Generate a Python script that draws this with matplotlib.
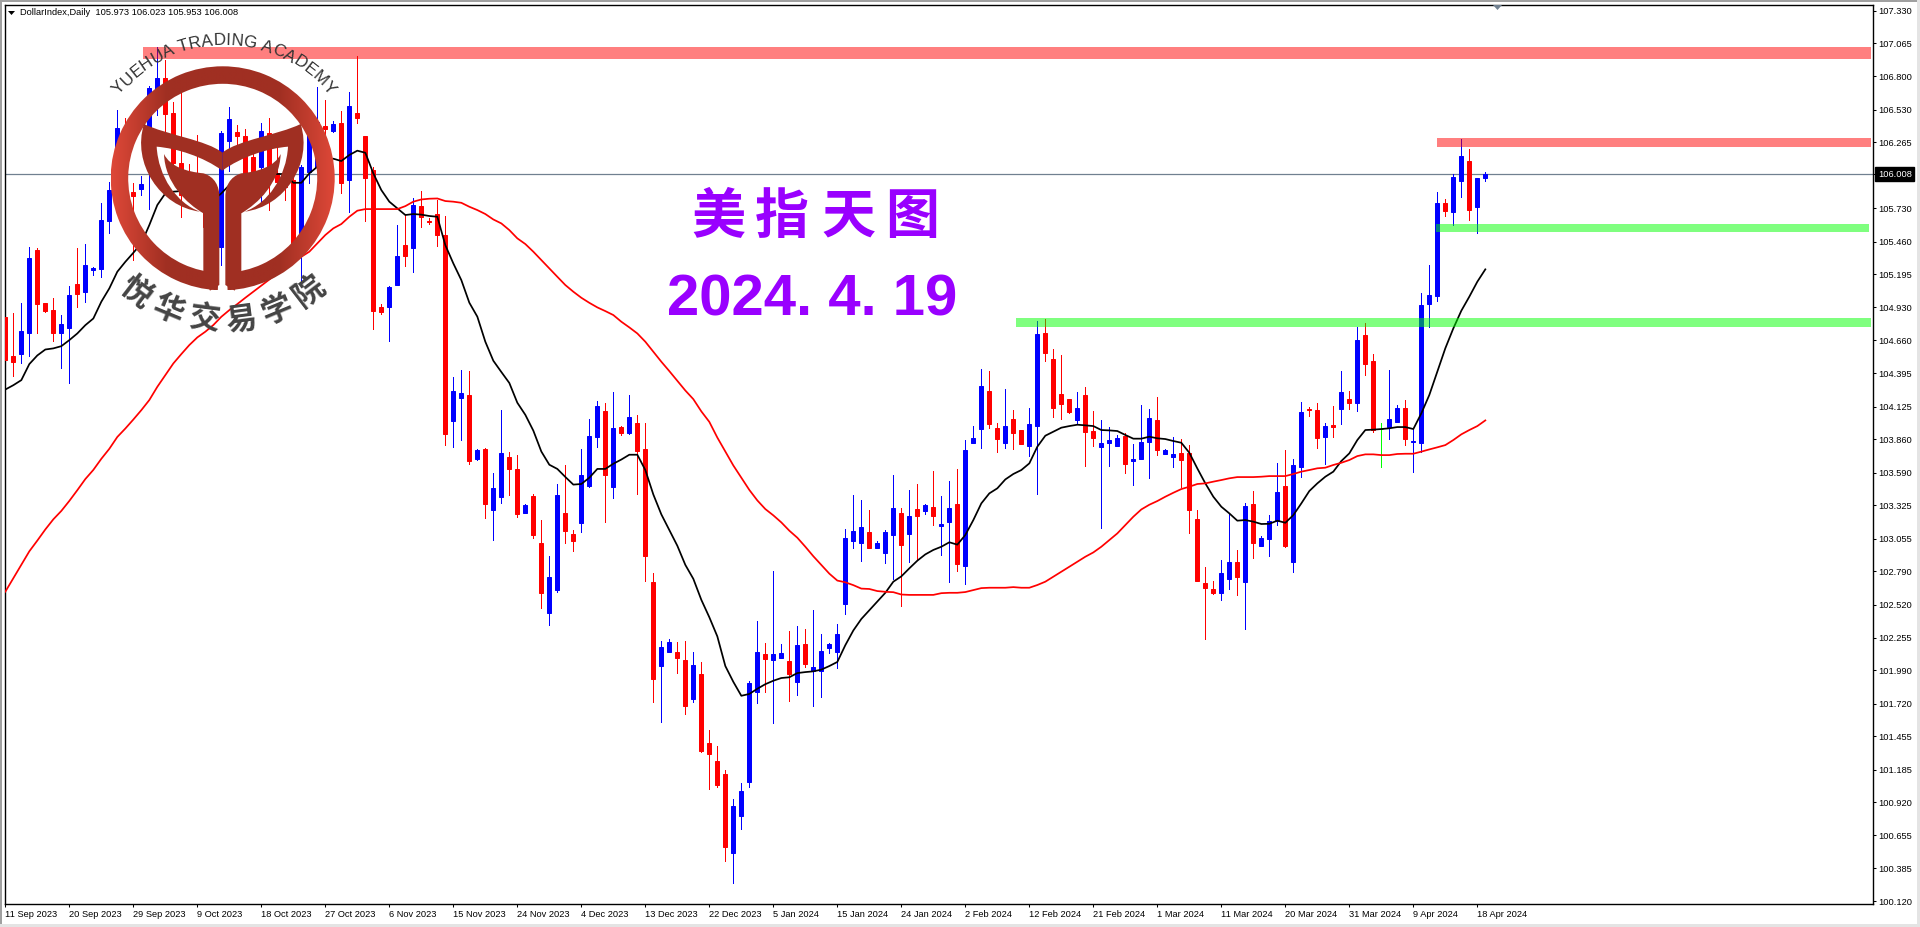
# plot.py
# DollarIndex daily chart, Sep 2023 - Apr 2024, with zones and academy logo

import numpy as np
import matplotlib
matplotlib.use('Agg')
import matplotlib.pyplot as plt
from matplotlib.patches import Wedge, PathPatch, Rectangle, Polygon
from matplotlib.path import Path
from matplotlib.font_manager import FontProperties
from matplotlib.textpath import text_to_path
from matplotlib.transforms import blended_transform_factory

opens = [
    104.852, 104.533, 104.550, 104.722, 105.392, 104.960, 104.906, 104.722, 104.763, 105.117,
    105.052, 105.233, 105.241, 105.630, 105.959, 106.310, 105.862, 105.883, 106.337, 106.607,
    106.785, 106.499, 106.094, 106.013, 105.865, 105.797, 105.581, 105.414, 106.278, 106.348,
    106.315, 106.148, 106.067, 106.337, 106.013, 105.945, 105.959, 105.487, 106.027, 106.067,
    106.396, 106.356, 106.421, 105.959, 106.499, 106.315, 106.040, 104.930, 104.933, 105.109,
    105.433, 105.411, 105.748, 105.627, 105.684, 105.514, 104.009, 104.191, 104.217, 103.698,
    103.783, 103.289, 103.396, 103.713, 103.620, 103.266, 103.399, 103.021, 102.456, 102.639,
    103.264, 103.094, 103.185, 103.481, 103.882, 104.089, 103.476, 103.959, 103.911, 103.993,
    103.781, 102.704, 102.024, 102.139, 102.137, 102.072, 101.761, 101.958, 101.399, 101.255,
    101.151, 100.512, 100.812, 101.088, 101.812, 102.122, 102.074, 102.091, 102.066, 101.896,
    102.201, 101.981, 101.981, 102.170, 102.139, 102.529, 103.038, 103.024, 103.108, 102.981,
    102.942, 103.089, 103.264, 103.097, 103.295, 103.278, 103.312, 103.154, 103.193, 103.337,
    102.836, 103.830, 103.946, 104.251, 103.951, 103.830, 104.024, 103.935, 103.808, 103.970,
    104.721, 104.510, 104.227, 104.186, 104.016, 104.219, 103.927, 103.797, 103.830, 103.805,
    103.886, 103.684, 103.700, 103.838, 104.016, 103.741, 103.716, 103.749, 103.749, 103.214,
    102.696, 102.647, 102.615, 102.728, 102.866, 102.704, 103.336, 102.995, 103.052, 103.198,
    103.481, 102.866, 103.635, 104.105, 104.097, 103.878, 103.973, 104.105, 104.186, 104.154,
    104.704, 104.494, 103.940, 103.959, 104.000, 104.113, 103.838, 103.832, 104.958, 105.023,
    105.771, 105.703, 105.954, 106.113, 105.741, 105.973,
]
closes = [
    104.506, 104.488, 104.736, 105.330, 104.955, 104.901, 104.722, 104.793, 105.027, 105.036,
    105.271, 105.246, 105.635, 105.878, 106.380, 105.824, 105.829, 105.927, 106.704, 106.785,
    106.494, 106.094, 105.840, 105.945, 105.797, 105.581, 105.406, 106.342, 106.453, 106.315,
    106.008, 106.013, 106.356, 106.013, 105.945, 105.905, 105.419, 106.067, 106.337, 106.432,
    106.369, 106.413, 105.937, 106.558, 106.461, 105.978, 104.901, 104.890, 105.095, 105.343,
    105.343, 105.757, 105.662, 105.616, 105.514, 103.905, 104.253, 104.231, 103.687, 103.775,
    103.337, 103.464, 103.750, 103.622, 103.255, 103.329, 103.089, 102.617, 102.744, 103.408,
    103.120, 103.038, 103.572, 103.885, 104.128, 103.572, 103.950, 103.911, 104.041, 103.764,
    102.911, 101.922, 102.179, 102.218, 102.091, 101.704, 102.032, 101.340, 101.314, 101.063,
    100.560, 100.891, 101.012, 101.885, 102.137, 102.083, 102.122, 102.128, 101.958, 102.193,
    102.043, 102.015, 102.145, 102.201, 102.283, 103.060, 103.117, 103.151, 102.981, 103.021,
    103.108, 103.303, 103.007, 103.238, 103.241, 103.329, 103.241, 103.173, 103.303, 102.854,
    103.773, 103.870, 104.291, 103.986, 103.865, 103.967, 103.913, 103.824, 103.984, 104.713,
    104.561, 104.116, 104.148, 104.081, 104.113, 103.919, 103.870, 103.830, 103.854, 103.870,
    103.662, 103.700, 103.838, 104.032, 103.773, 103.773, 103.741, 103.692, 103.287, 102.712,
    102.655, 102.615, 102.777, 102.866, 102.744, 103.319, 103.020, 103.060, 103.198, 103.433,
    102.995, 103.652, 104.081, 104.094, 103.870, 103.967, 103.959, 104.243, 104.154, 104.664,
    104.470, 103.935, 103.940, 104.024, 104.113, 103.862, 103.843, 104.947, 105.028, 105.773,
    105.708, 105.984, 106.154, 105.719, 105.976, 106.008,
]
highs = [
    104.860, 104.879, 104.960, 105.414, 105.406, 104.965, 105.000, 104.866, 105.100, 105.406,
    105.438, 105.257, 105.770, 105.945, 106.526, 106.459, 105.932, 105.991, 106.720, 107.039,
    106.931, 106.594, 106.661, 106.089, 106.324, 105.838, 105.635, 106.356, 106.548, 106.404,
    106.369, 106.202, 106.418, 106.459, 106.229, 106.067, 106.148, 106.080, 106.364, 106.715,
    106.607, 106.440, 106.518, 106.669, 106.963, 106.315, 106.062, 104.955, 105.100, 105.595,
    105.676, 105.810, 105.870, 105.648, 105.797, 105.667, 104.361, 104.420, 104.412, 103.783,
    103.789, 103.583, 104.097, 103.761, 103.733, 103.337, 103.413, 103.204, 102.913, 103.498,
    103.654, 103.125, 103.781, 104.024, 104.171, 104.154, 104.244, 103.967, 104.219, 104.058,
    103.993, 102.778, 102.227, 102.244, 102.218, 102.227, 102.137, 102.057, 101.507, 101.377,
    101.182, 100.947, 101.077, 101.902, 102.388, 102.210, 102.792, 102.201, 102.306, 102.348,
    102.323, 102.478, 102.283, 102.207, 102.368, 103.134, 103.408, 103.365, 103.286, 103.035,
    103.125, 103.572, 103.303, 103.450, 103.498, 103.332, 103.603, 103.399, 103.521, 103.620,
    103.854, 103.967, 104.429, 104.413, 103.989, 104.267, 104.097, 103.935, 104.116, 104.815,
    104.834, 104.588, 104.543, 104.186, 104.243, 104.283, 104.089, 104.016, 103.957, 103.895,
    103.908, 103.819, 104.138, 104.105, 104.202, 103.781, 103.878, 103.862, 103.814, 103.287,
    102.825, 102.715, 102.882, 103.260, 102.963, 103.344, 103.441, 103.076, 103.246, 103.668,
    103.773, 103.700, 104.162, 104.121, 104.154, 103.992, 104.129, 104.413, 104.251, 104.769,
    104.802, 104.551, 103.992, 104.421, 104.138, 104.178, 103.948, 105.045, 105.271, 105.865,
    105.806, 106.008, 106.291, 106.210, 105.976, 106.023,
]
lows = [
    104.366, 104.371, 104.474, 104.533, 104.717, 104.890, 104.658, 104.439, 104.317, 104.933,
    104.974, 105.190, 105.176, 105.532, 105.878, 105.689, 105.311, 105.837, 105.721, 106.485,
    106.337, 106.067, 105.657, 105.824, 105.743, 105.473, 105.284, 105.271, 106.035, 106.121,
    105.959, 105.784, 105.784, 105.716, 105.892, 105.797, 105.406, 105.136, 105.937, 106.040,
    106.121, 106.345, 105.856, 105.703, 106.423, 105.630, 104.755, 104.874, 104.658, 105.109,
    105.262, 105.217, 105.581, 105.603, 105.424, 103.815, 103.797, 103.857, 103.660, 103.692,
    103.224, 103.046, 103.346, 103.408, 103.233, 103.264, 103.063, 102.495, 102.357, 102.625,
    103.021, 102.956, 103.108, 103.476, 103.798, 103.190, 103.385, 103.896, 103.902, 103.416,
    102.716, 101.733, 101.572, 102.137, 101.967, 101.637, 101.735, 101.331, 101.029, 101.046,
    100.442, 100.266, 100.704, 101.043, 101.724, 101.817, 101.563, 102.088, 101.741, 101.789,
    102.015, 101.704, 101.775, 102.128, 102.009, 102.447, 102.978, 102.877, 102.976, 102.978,
    102.860, 102.730, 102.509, 102.865, 102.882, 103.255, 103.165, 102.922, 102.707, 102.792,
    102.690, 103.830, 103.792, 103.954, 103.760, 103.792, 103.784, 103.822, 103.727, 103.419,
    104.497, 104.040, 104.027, 104.073, 103.994, 103.646, 103.805, 103.141, 103.643, 103.805,
    103.587, 103.489, 103.700, 103.546, 103.732, 103.738, 103.635, 103.473, 103.101, 102.712,
    102.242, 102.609, 102.558, 102.647, 102.599, 102.323, 102.898, 102.995, 102.914, 103.166,
    102.987, 102.785, 103.554, 104.048, 103.789, 103.660, 103.878, 103.984, 104.105, 104.089,
    104.381, 103.919, 103.635, 103.862, 104.000, 103.814, 103.595, 103.757, 104.772, 104.982,
    105.668, 105.595, 105.822, 105.636, 105.530, 105.953,
]

# moving averages read bar by bar
ma_fast = [
    104.263, 104.298, 104.339, 104.469, 104.539, 104.587, 104.596, 104.614, 104.663, 104.717,
    104.784, 104.838, 104.974, 105.082, 105.217, 105.297, 105.370, 105.446, 105.595, 105.757,
    105.851, 105.865, 105.870, 105.873, 105.856, 105.824, 105.797, 105.851, 105.919, 105.986,
    106.000, 106.000, 105.999, 106.005, 106.008, 106.008, 105.937, 105.937, 106.013, 106.067,
    106.126, 106.132, 106.113, 106.162, 106.197, 106.180, 106.013, 105.878, 105.784, 105.730,
    105.676, 105.684, 105.679, 105.668, 105.662, 105.432, 105.284, 105.149, 104.966, 104.853,
    104.650, 104.496, 104.405, 104.316, 104.156, 104.058, 103.930, 103.761, 103.654, 103.620,
    103.555, 103.493, 103.498, 103.549, 103.620, 103.620, 103.662, 103.696, 103.735, 103.735,
    103.611, 103.413, 103.252, 103.125, 102.998, 102.843, 102.730, 102.560, 102.419, 102.264,
    102.024, 101.896, 101.783, 101.798, 101.840, 101.877, 101.905, 101.927, 101.933, 101.967,
    101.975, 101.981, 101.995, 102.024, 102.057, 102.193, 102.312, 102.405, 102.476, 102.546,
    102.617, 102.707, 102.750, 102.815, 102.877, 102.928, 102.964, 102.990, 103.026, 103.007,
    103.085, 103.206, 103.341, 103.422, 103.463, 103.535, 103.579, 103.611, 103.665, 103.800,
    103.889, 103.921, 103.954, 103.967, 103.978, 103.973, 103.967, 103.935, 103.932, 103.927,
    103.895, 103.865, 103.865, 103.881, 103.868, 103.862, 103.846, 103.832, 103.751, 103.624,
    103.503, 103.395, 103.314, 103.260, 103.201, 103.206, 103.193, 103.174, 103.176, 103.201,
    103.184, 103.246, 103.341, 103.441, 103.503, 103.557, 103.598, 103.684, 103.746, 103.854,
    103.935, 103.938, 103.943, 103.949, 103.959, 103.959, 103.943, 104.070, 104.219, 104.408,
    104.597, 104.758, 104.901, 105.015, 105.136, 105.236,
]
ma_slow = [
    102.626, 102.735, 102.844, 102.953, 103.040, 103.130, 103.212, 103.280, 103.361, 103.448,
    103.538, 103.612, 103.702, 103.783, 103.879, 103.947, 104.020, 104.096, 104.178, 104.285,
    104.380, 104.474, 104.550, 104.623, 104.685, 104.731, 104.785, 104.852, 104.906, 104.955,
    105.006, 105.055, 105.103, 105.154, 105.203, 105.252, 105.297, 105.338, 105.379, 105.446,
    105.514, 105.568, 105.603, 105.662, 105.711, 105.724, 105.724, 105.724, 105.724, 105.724,
    105.748, 105.784, 105.802, 105.808, 105.810, 105.789, 105.784, 105.775, 105.743, 105.716,
    105.684, 105.640, 105.608, 105.554, 105.487, 105.441, 105.379, 105.311, 105.244, 105.176,
    105.109, 105.055, 105.006, 104.965, 104.928, 104.898, 104.866, 104.812, 104.766, 104.717,
    104.650, 104.569, 104.488, 104.412, 104.334, 104.255, 104.185, 104.086, 104.001, 103.874,
    103.761, 103.648, 103.549, 103.450, 103.365, 103.295, 103.244, 103.187, 103.120, 103.063,
    102.990, 102.913, 102.843, 102.772, 102.716, 102.702, 102.679, 102.651, 102.648, 102.631,
    102.625, 102.622, 102.603, 102.600, 102.600, 102.600, 102.600, 102.614, 102.617, 102.617,
    102.623, 102.639, 102.655, 102.658, 102.658, 102.658, 102.663, 102.658, 102.658, 102.680,
    102.707, 102.747, 102.788, 102.828, 102.869, 102.909, 102.944, 102.990, 103.044, 103.098,
    103.166, 103.233, 103.292, 103.330, 103.360, 103.395, 103.427, 103.457, 103.476, 103.498,
    103.503, 103.517, 103.530, 103.544, 103.554, 103.554, 103.554, 103.557, 103.562, 103.562,
    103.562, 103.579, 103.598, 103.611, 103.625, 103.630, 103.652, 103.670, 103.692, 103.724,
    103.738, 103.738, 103.732, 103.732, 103.741, 103.743, 103.743, 103.760, 103.778, 103.795,
    103.813, 103.854, 103.900, 103.935, 103.967, 104.013,
]

date_labels = [
    '11 Sep 2023', '20 Sep 2023', '29 Sep 2023', '9 Oct 2023', '18 Oct 2023', '27 Oct 2023',
    '6 Nov 2023', '15 Nov 2023', '24 Nov 2023', '4 Dec 2023', '13 Dec 2023', '22 Dec 2023',
    '5 Jan 2024', '15 Jan 2024', '24 Jan 2024', '2 Feb 2024', '12 Feb 2024', '21 Feb 2024',
    '1 Mar 2024', '11 Mar 2024', '20 Mar 2024', '31 Mar 2024', '9 Apr 2024', '18 Apr 2024',
]
price_ticks = [
    107.330, 107.065, 106.800, 106.530, 106.265, 105.730, 105.460, 105.195, 104.930, 104.660,
    104.395, 104.125, 103.860, 103.590, 103.325, 103.055, 102.790, 102.520, 102.255, 101.990,
    101.720, 101.455, 101.185, 100.920, 100.655, 100.385, 100.120,
]
last_price = 106.008

# zones: first bar, last bar, top price, bottom price
red_zones = [(17.2, 233.2, 107.036, 106.939), (178.9, 233.2, 106.300, 106.227)]
green_zones = [(126.3, 233.2, 104.842, 104.769), (178.8, 232.95, 105.603, 105.538)]

W, H = 1920, 927
FONT = 'Liberation Sans'
PX = 0.72  # points per pixel at dpi 100
LABEL = 9.3 * PX

fig = plt.figure(figsize=(W / 100, H / 100), dpi=100, facecolor='white')
ax = fig.add_axes([4.5 / W, (H - 904) / H, (1872.5 - 4.5) / W, (904 - 4.5) / H])

bars = np.arange(len(opens))
opens = np.array(opens)
closes = np.array(closes)
colors = np.where(closes > opens, '#0000FF', np.where(closes < opens, '#FF0000', '#00FF00'))

ax.vlines(bars, lows, highs, colors=colors, linewidth=0.7, antialiased=False, zorder=2)
ax.bar(bars, closes - opens, bottom=opens, width=4 / 8, color=colors, edgecolor=colors,
       linewidth=0.72, zorder=3)

ax.plot(bars, ma_fast, color='black', linewidth=1.25, zorder=4)
ax.plot(bars, ma_slow, color='#FF0000', linewidth=1.25, zorder=4)

for x0, x1, top, bottom in red_zones:
    ax.fill_between([x0, x1], bottom, top, color='#FF0000', alpha=0.5, linewidth=0, zorder=5)
for x0, x1, top, bottom in green_zones:
    ax.fill_between([x0, x1], bottom, top, color='#00FF00', alpha=0.5, linewidth=0, zorder=5)

ax.axhline(last_price, color='#708090', linewidth=0.9, zorder=1)

ax.set_xlim((4.5 - 5.33) / 8, (1872.5 - 5.33) / 8)
ax.set_ylim(107.417 - 0.0080972 * 904, 107.417 - 0.0080972 * 4.5)

ax.set_xticks(bars[::8])
ax.set_xticklabels(date_labels, ha='left', fontsize=LABEL, fontfamily=FONT)
ax.yaxis.tick_right()
ax.set_yticks(price_ticks + [last_price])
ax.set_yticklabels(['%.3f' % p for p in price_ticks] + [''], fontsize=LABEL, fontfamily=FONT)
ax.tick_params(axis='x', length=3 * PX, width=0.75, pad=2.2)
ax.tick_params(axis='y', length=3 * PX, width=0.75, pad=1.8)
for spine in ax.spines.values():
    spine.set_linewidth(1.0)

tr = blended_transform_factory(ax.transAxes, ax.transData)
ax.text(1 + 5.5 / 1868, last_price, '%.3f' % last_price, transform=tr, color='white', va='center',
        ha='left', fontsize=LABEL, fontfamily=FONT, clip_on=False,
        bbox=dict(facecolor='black', edgecolor='black', pad=1.8))

# overlay in pixels for header, title and logo
ov = fig.add_axes([0, 0, 1, 1], zorder=5)
ov.set_axis_off()
ov.patch.set_visible(False)

ov.add_patch(Rectangle((0, 0), W, 1.5, color='#A0A0A0', lw=0))
ov.add_patch(Rectangle((0, 0), 2, H, color='#A0A0A0', lw=0))
ov.add_patch(Rectangle((0, 924), W, 3, color='#E4E4E4', lw=0))
ov.add_patch(Rectangle((1917, 0), 3, H, color='#E4E4E4', lw=0))

ov.add_patch(Polygon([(1493, 5), (1502, 5), (1497.5, 10)], color='#708090', lw=0))
ov.add_patch(Polygon([(8, 11), (15, 11), (11.5, 15)], color='black', lw=0))
ov.text(20, 12.5, 'DollarIndex,Daily  105.973 106.023 105.953 106.008', fontsize=LABEL,
        fontfamily=FONT, va='center', ha='left', color='black')

# title
purple = '#9900FF'
for cx, ch in zip([718, 782, 848, 912], '美指天图'):
    ov.text(cx, 217, ch, fontsize=54 * PX, color=purple, ha='center', va='center',
            fontfamily='Noto Sans CJK SC', fontweight='bold')
ov.text(812, 301, '2024. 4. 19', fontsize=58 * PX, color=purple, ha='center', va='center',
        fontfamily='Liberation Sans', fontweight='bold')

# logo ring with soft gradient to the sides
cx, cy, ring_r, ring_w = 222.7, 178.3, 112.0, 17.5
ring = Wedge((cx, cy), ring_r, 92.5, 87.5 + 360, width=ring_w, facecolor='none', lw=0)
ov.add_patch(ring)
t = np.clip((np.abs(np.linspace(-1, 1, 300)) - 0.5) / 0.5, 0, 1)
dark = np.array([0xA0, 0x2F, 0x22]) / 255
light = np.array([0xDE, 0x48, 0x38]) / 255
grad = (dark[None, :] * (1 - t[:, None]) + light[None, :] * t[:, None])[None, :, :]
im = ov.imshow(grad, extent=(cx - ring_r, cx + ring_r, cy + ring_r, cy - ring_r), aspect='auto',
               zorder=1)
im.set_clip_path(ring)


def half_logo(mirror):
    # shapes traced in 3x zoom coordinates, mirrored around the stem gap
    def pt(x, y):
        return ((2 * 667 - x if mirror else x) / 3, y / 3)

    wing = [pt(432, 372), pt(500, 405), pt(620, 420), pt(667, 458), pt(667, 512), pt(610, 470),
            pt(530, 445), pt(470, 440), pt(475, 530), pt(530, 610), pt(600, 635), pt(480, 620),
            pt(395, 490), pt(432, 372)]
    wing_codes = [Path.MOVETO, Path.CURVE4, Path.CURVE4, Path.CURVE4, Path.LINETO, Path.CURVE4,
                  Path.CURVE4, Path.CURVE4, Path.CURVE4, Path.CURVE4, Path.CURVE4, Path.CURVE4,
                  Path.CURVE4, Path.CURVE4]
    stem = [pt(492, 462), pt(510, 500), pt(560, 515), pt(610, 520), pt(645, 530), pt(658, 560),
            pt(658, 590), pt(658, 855), pt(630, 872), pt(610, 826), pt(610, 640), pt(560, 610),
            pt(495, 550), pt(492, 462)]
    stem_codes = [Path.MOVETO, Path.CURVE4, Path.CURVE4, Path.CURVE4, Path.CURVE4, Path.CURVE4,
                  Path.CURVE4, Path.LINETO, Path.LINETO, Path.LINETO, Path.LINETO, Path.CURVE4,
                  Path.CURVE4, Path.CURVE4]
    for verts, codes in ((wing, wing_codes), (stem, stem_codes)):
        ov.add_patch(PathPatch(Path(verts, codes), facecolor='#A02F22', lw=0, zorder=2))


half_logo(False)
half_logo(True)

# english name along the upper arc
arc_text = 'YUEHUA TRADING ACADEMY'
arc_size = 17.0
fp = FontProperties(family='Liberation Sans', size=arc_size)
widths = [text_to_path.get_text_width_height_descent(c, fp, False)[0] for c in arc_text]
arc_r = 135.0
pos = -sum(widths) / 2
for c, w in zip(arc_text, widths):
    ang = (pos + w / 2) / arc_r
    ov.text(224 + arc_r * np.sin(ang), 180 - arc_r * np.cos(ang), c, fontsize=arc_size * PX,
            fontfamily='Liberation Sans', color='#333333', ha='center', va='baseline',
            rotation=-np.degrees(ang), rotation_mode='anchor', zorder=3)
    pos += w

# chinese name along the lower arc
for ang, c in zip([-37.5, -22.5, -7.5, 7.5, 22.5, 37.5], '悦华交易学院'):
    a = np.radians(ang)
    ov.text(cx + 142.7 * np.sin(a), cy + 142.7 * np.cos(a), c, fontsize=31 * PX, color='#444444',
            fontfamily='Noto Sans CJK SC', fontweight=900, ha='center', va='center',
            rotation=ang, rotation_mode='anchor', zorder=3)

ov.set_xlim(0, W)
ov.set_ylim(H, 0)

fig.savefig('out.png', dpi=100)
